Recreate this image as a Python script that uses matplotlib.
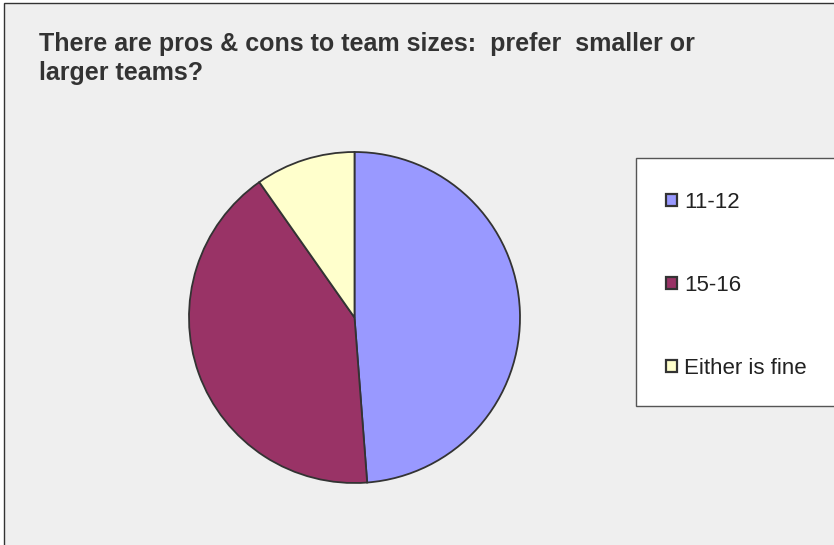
import matplotlib
matplotlib.use("Agg")
import matplotlib.pyplot as plt
import matplotlib.patches as mpatches

# 数据
labels = ["11-12", "15-16", "Either is fine"]
counts = [20, 17, 4]
colors = ["#9999FF", "#993366", "#FFFFCC"]
title = "There are pros & cons to team sizes:  prefer  smaller or\nlarger teams?"

W, H = 834, 545
fig = plt.figure(figsize=(W / 100, H / 100), dpi=100)
fig.patch.set_facecolor("white")

# 图表区背景
fig.patches.append(mpatches.Rectangle(
    (4 / W, -0.05), 1.1, 1.05 - 3 / H, transform=fig.transFigure,
    facecolor="#EFEFEF", edgecolor="#333333", linewidth=1.0, zorder=-2))

fig.text(39 / W, 1 - 32.5 / H, title, ha="left", va="top",
         fontsize=18, color="#333333", linespacing=1.23,
         family=["Liberation Sans", "DejaVu Sans"], fontweight="bold")

# 饼图
ax = fig.add_axes([188.5 / W, 61.5 / H, 332 / W, 332 / H])
ax.set_zorder(1)
ax.set_facecolor("none")
wedges, _ = ax.pie(counts, colors=colors, startangle=90, counterclock=False,
                   radius=1.0,
                   wedgeprops=dict(edgecolor="#333333", linewidth=1.3))
ax.set_xlim(-1.003, 1.003)
ax.set_ylim(-1.003, 1.003)
ax.set_aspect("equal")
ax.axis("off")

# 图例
fig.patches.append(mpatches.Rectangle(
    (636 / W, 1 - 406 / H), 0.5, 248 / H, transform=fig.transFigure,
    facecolor="white", edgecolor="#555555", linewidth=1.0, zorder=1))
leg = fig.legend(wedges, labels, loc="upper left",
                 bbox_to_anchor=(666 / W, 1 - 192 / H),
                 frameon=False, labelcolor="#222222",
                 handlelength=0.5, handleheight=0.5, handletextpad=0.3,
                 labelspacing=2.79, borderpad=0, borderaxespad=0,
                 prop={"family": ["Liberation Sans", "DejaVu Sans"], "size": 16})
for h in leg.legend_handles:
    h.set_linewidth(1.6)
leg.set_zorder(3)

fig.savefig("out.png", dpi=100)
